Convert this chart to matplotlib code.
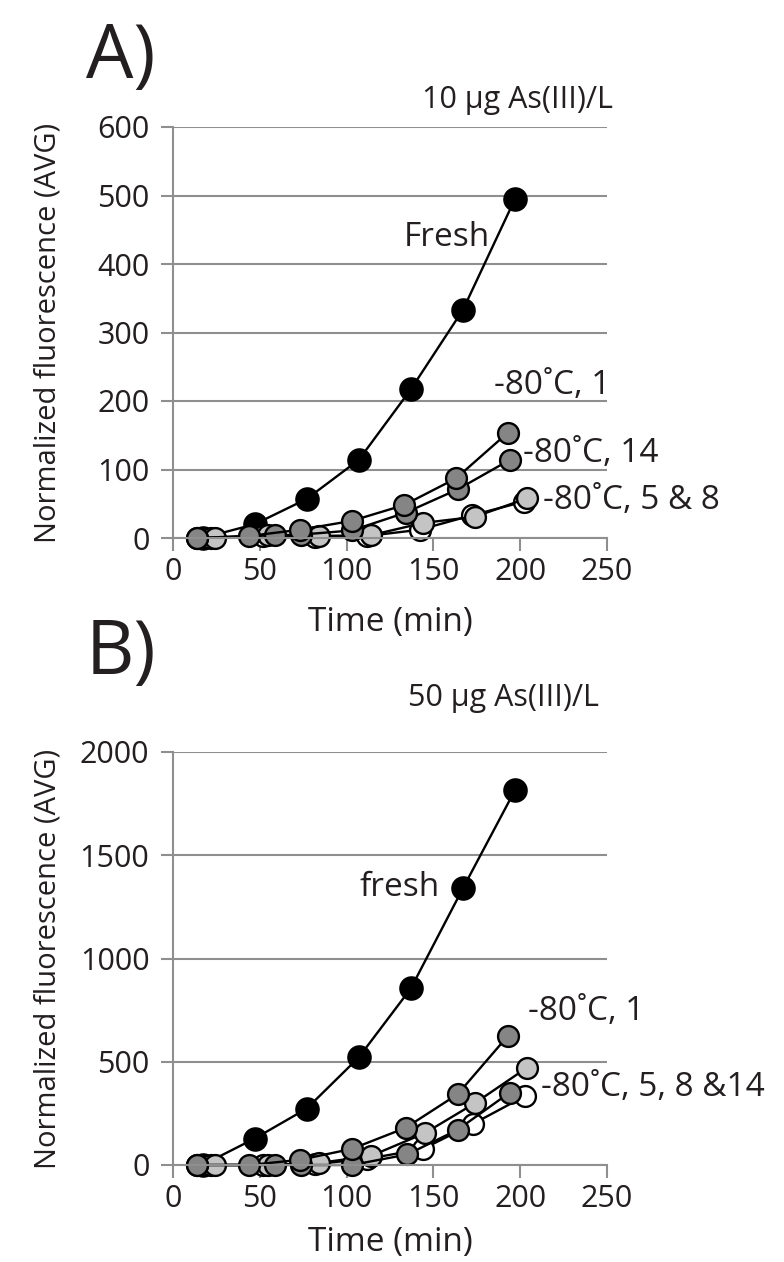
import matplotlib
matplotlib.use("Agg")
import matplotlib.pyplot as plt

plt.rcParams['font.family'] = ['Open Sans', 'DejaVu Sans']

# ---------------- data ----------------
# Panel A: 10 ug As(III)/L
a_fresh_t = [17, 47, 77, 107, 137, 167, 197]
a_fresh_v = [0, 20, 57, 114, 217, 333, 495]
a_d1_t = [14, 44, 73, 103, 133, 163, 193]
a_d1_v = [0, 3, 12, 25, 48, 87, 154]
a_d14_t = [14, 59, 74, 103, 134, 164, 194]
a_d14_v = [0, 4, 5, 11, 37, 71, 114]
a_d8_t = [24, 55, 84, 114, 144, 174, 204]
a_d8_v = [0, 4, 3, 4, 22, 31, 58]
a_d5_t = [22, 52, 82, 112, 142, 172, 202]
a_d5_v = [0, 3, 2, 3, 12, 33, 53]

# Panel B: 50 ug As(III)/L
b_fresh_t = [17, 47, 77, 107, 137, 167, 197]
b_fresh_v = [0, 128, 273, 521, 855, 1340, 1815]
b_d1_t = [14, 44, 73, 103, 134, 164, 193]
b_d1_v = [0, 0, 25, 78, 180, 343, 626]
b_d14_t = [14, 59, 74, 103, 135, 164, 194]
b_d14_v = [0, 0, 0, 0, 51, 171, 351]
b_d8_t = [24, 55, 84, 114, 145, 174, 204]
b_d8_v = [0, 0, 10, 44, 154, 300, 472]
b_d5_t = [22, 52, 82, 112, 144, 173, 203]
b_d5_v = [0, 0, 5, 30, 78, 200, 335]

x_ticks = [0, 50, 100, 150, 200, 250]
a_y_ticks = [0, 100, 200, 300, 400, 500, 600]
b_y_ticks = [0, 500, 1000, 1500, 2000]

W, H = 784, 1262
fig = plt.figure(figsize=(W / 100, H / 100), dpi=100)

GRID = '#8f8f8f'
TFS = 22     # tick labels
LFS = 21     # axis labels
AFS = 24     # annotations
TXT = '#231f20'


def px(x, y):
    return x / W, 1 - y / H


def setup(ax, yticks, xlab_y):
    ax.set_xlim(0, 250)
    ax.set_ylim(yticks[0], yticks[-1])
    ax.set_xticks(x_ticks)
    ax.set_yticks(yticks)
    for s in ['top', 'right']:
        ax.spines[s].set_visible(False)
    for s in ['left', 'bottom']:
        ax.spines[s].set_color(GRID)
        ax.spines[s].set_linewidth(1.5)
    ax.grid(axis='y', color=GRID, linewidth=1.5)
    ax.set_axisbelow(True)
    ax.tick_params(axis='both', direction='out', length=9, width=1.5,
                   color=GRID, labelsize=TFS, labelcolor=TXT)
    ax.tick_params(axis='y', pad=8)
    ax.tick_params(axis='x', pad=5)
    ax.set_ylabel('Normalized fluorescence (AVG)', fontsize=LFS, color=TXT)
    ax.yaxis.set_label_coords(-0.255, 0.5)
    ax.set_xlabel('Time (min)', fontsize=AFS, color=TXT, va='center')
    ax.xaxis.set_label_coords(0.5, xlab_y)


def series(ax, t, v, face, ms=15):
    ax.plot(t, v, '-', color='black', lw=1.7, marker='o', ms=ms,
            markerfacecolor=face, markeredgecolor='black', markeredgewidth=1.7,
            clip_on=False)


axA = fig.add_axes([173 / W, 1 - 538 / H, 434 / W, 411 / H])
setup(axA, a_y_ticks, -(622 - 538) / 411)
series(axA, a_fresh_t, a_fresh_v, 'black', ms=16)
series(axA, a_d5_t, a_d5_v, 'white')
series(axA, a_d8_t, a_d8_v, '#c4c4c4')
series(axA, a_d14_t, a_d14_v, '#858585')
series(axA, a_d1_t, a_d1_v, '#858585')

axB = fig.add_axes([173 / W, 1 - 1165 / H, 434 / W, (1165 - 752) / H])
setup(axB, b_y_ticks, -(1242 - 1165) / 413)
series(axB, b_fresh_t, b_fresh_v, 'black', ms=16)
series(axB, b_d5_t, b_d5_v, 'white')
series(axB, b_d8_t, b_d8_v, '#c4c4c4')
series(axB, b_d14_t, b_d14_v, '#858585')
series(axB, b_d1_t, b_d1_v, '#858585')

# panel letters and titles
fig.text(*px(86, 58), 'A)', fontsize=54, va='center', ha='left', color=TXT)
fig.text(*px(86, 655), 'B)', fontsize=54, va='center', ha='left', color=TXT)
fig.text(*px(422, 100), '10 µg As(III)/L', fontsize=AFS - 2, va='center', ha='left', color=TXT)
fig.text(*px(408, 698), '50 µg As(III)/L', fontsize=AFS - 2, va='center', ha='left', color=TXT)

# annotations panel A
fig.text(*px(404, 238), 'Fresh', fontsize=AFS, va='center', ha='left', color=TXT)
fig.text(*px(494, 385), '-80˚C, 1', fontsize=AFS, va='center', ha='left', color=TXT)
fig.text(*px(523, 453), '-80˚C, 14', fontsize=AFS, va='center', ha='left', color=TXT)
fig.text(*px(543, 500), '-80˚C, 5 & 8', fontsize=AFS, va='center', ha='left', color=TXT)

# annotations panel B
fig.text(*px(359, 888), 'fresh', fontsize=AFS, va='center', ha='left', color=TXT)
fig.text(*px(528, 1012), '-80˚C, 1', fontsize=AFS, va='center', ha='left', color=TXT)
fig.text(*px(541, 1087), '-80˚C, 5, 8 &14', fontsize=AFS, va='center', ha='left', color=TXT)

fig.savefig('out.png', dpi=100)
